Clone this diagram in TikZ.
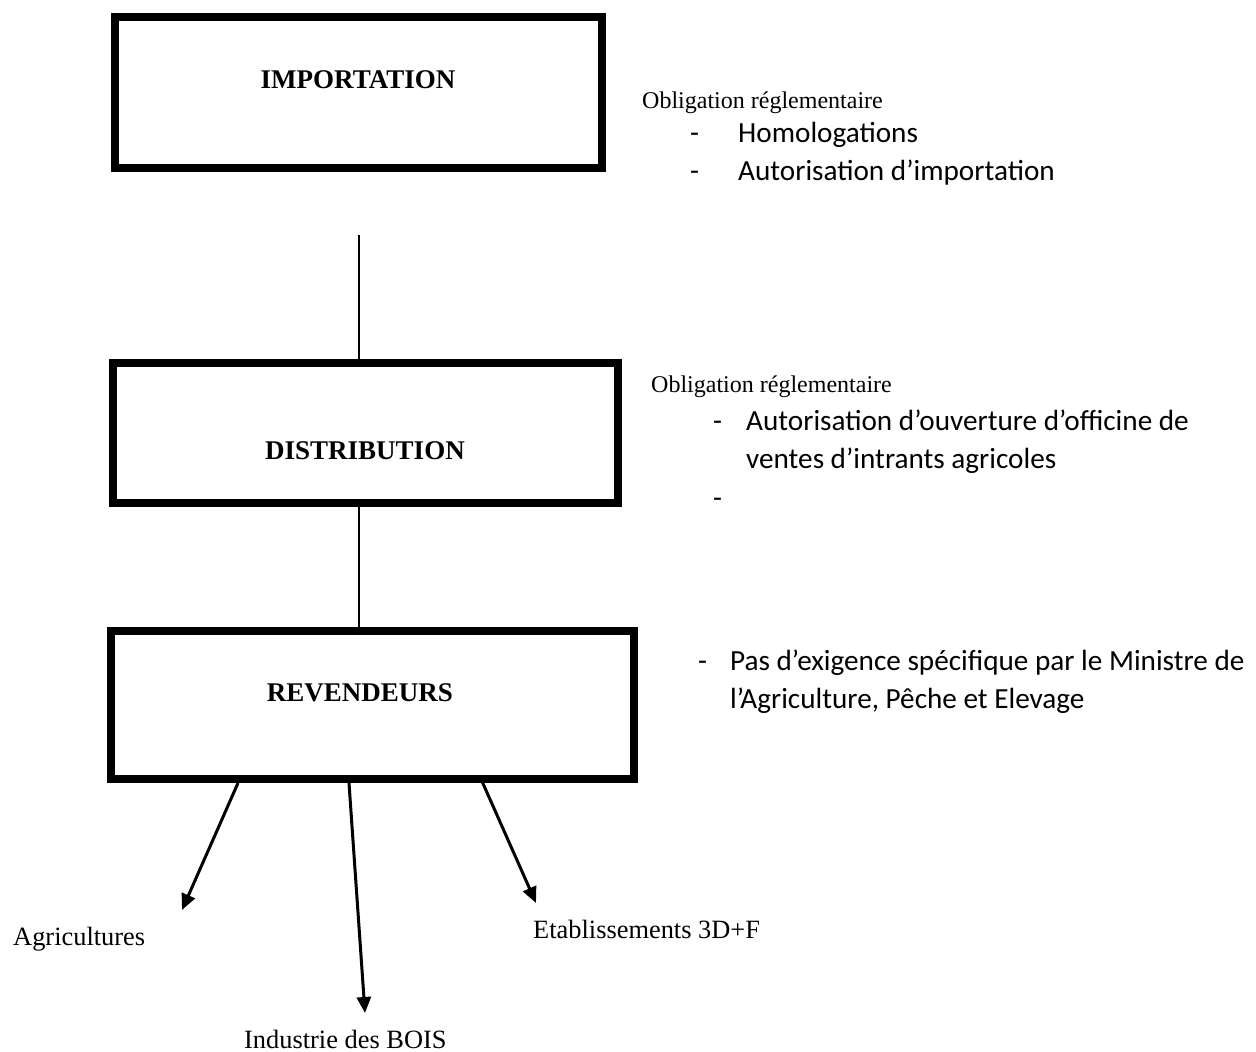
\documentclass[tikz,border=0pt]{standalone}
\usepackage{fontspec}
\setmainfont{Liberation Serif}
\newfontfamily\calibfont{Carlito}
\usetikzlibrary{arrows.meta}
\begin{document}
\begin{tikzpicture}[x=1pt,y=-1pt,
  box/.style={draw, line width=8pt, rectangle, inner sep=0pt},
  title/.style={font=\fontsize{27}{30}\selectfont\bfseries, anchor=base, inner sep=0pt},
  tnote/.style={font=\fontsize{26.4}{30}\selectfont, anchor=base west, inner sep=0pt},
  onote/.style={font=\fontsize{24}{28}\selectfont, anchor=base west, inner sep=0pt},
  cnote/.style={font=\calibfont\fontsize{29.2}{36}\selectfont, anchor=base west, inner sep=0pt},
  link/.style={line width=1.3pt},
  arr/.style={line width=3pt, -{Triangle[length=16pt,width=14pt]}},
]
\useasboundingbox (0,0) rectangle (1256,1052);
% boxes
\node[box, minimum width=487pt, minimum height=151pt] (b1) at (358.5,92.5) {};
\node[box, minimum width=505pt, minimum height=140pt] (b2) at (365.5,433) {};
\node[box, minimum width=523pt, minimum height=148pt] (b3) at (372.5,705) {};
% titles
\node[title] (t1) at (358,88) {IMPORTATION};
\node[title] (t2) at (365,459) {DISTRIBUTION};
\node[title] (t3) at (360,701) {REVENDEURS};
% connectors between boxes
\coordinate (top) at (359,235);
\draw[link] (top) -- (top |- b2.north);
\coordinate (mid) at (359,600);
\draw[link] (mid |- b2.south) -- (mid |- b3.north);
% right notes block 1
\node[onote] (o1) at (642,108) {Obligation réglementaire};
\node[cnote] (d11) at (690,142) {-};
\node[cnote] (h1) at (738,142) {Homologations};
\node[cnote] (d12) at (690,180) {-};
\node[cnote] (h2) at (738,180) {Autorisation d’importation};
% right notes block 2
\node[onote] (o2) at (651,392) {Obligation réglementaire};
\node[cnote] (d21) at (713,430) {-};
\node[cnote] (a1) at (746,430) {Autorisation d’ouverture d’officine de};
\node[cnote] (a2) at (746,468) {ventes d’intrants agricoles};
\node[cnote] (d22) at (713,507) {-};
% right notes block 3
\node[cnote] (d31) at (698,670) {-};
\node[cnote] (p1) at (730,670) {Pas d’exigence spécifique par le Ministre de};
\node[cnote] (p2) at (730,708) {l’Agriculture, Pêche et Elevage};
% destinations
\node[tnote] (agr) at (13,945) {Agricultures};
\node[tnote] (ind) at (244,1048) {Industrie des BOIS};
\node[tnote] (eta) at (533,938) {Etablissements 3D+F};
\coordinate (e1) at (182,910);
\coordinate (e2) at (365,1013);
\coordinate (e3) at (536,903);
\draw[arr] ([xshift=131pt]b3.south west) -- (e1);
\draw[arr] ([xshift=242pt]b3.south west) -- (e2);
\draw[arr] ([xshift=374pt,yshift=4pt]b3.south west) -- (e3);
\end{tikzpicture}
\end{document}
